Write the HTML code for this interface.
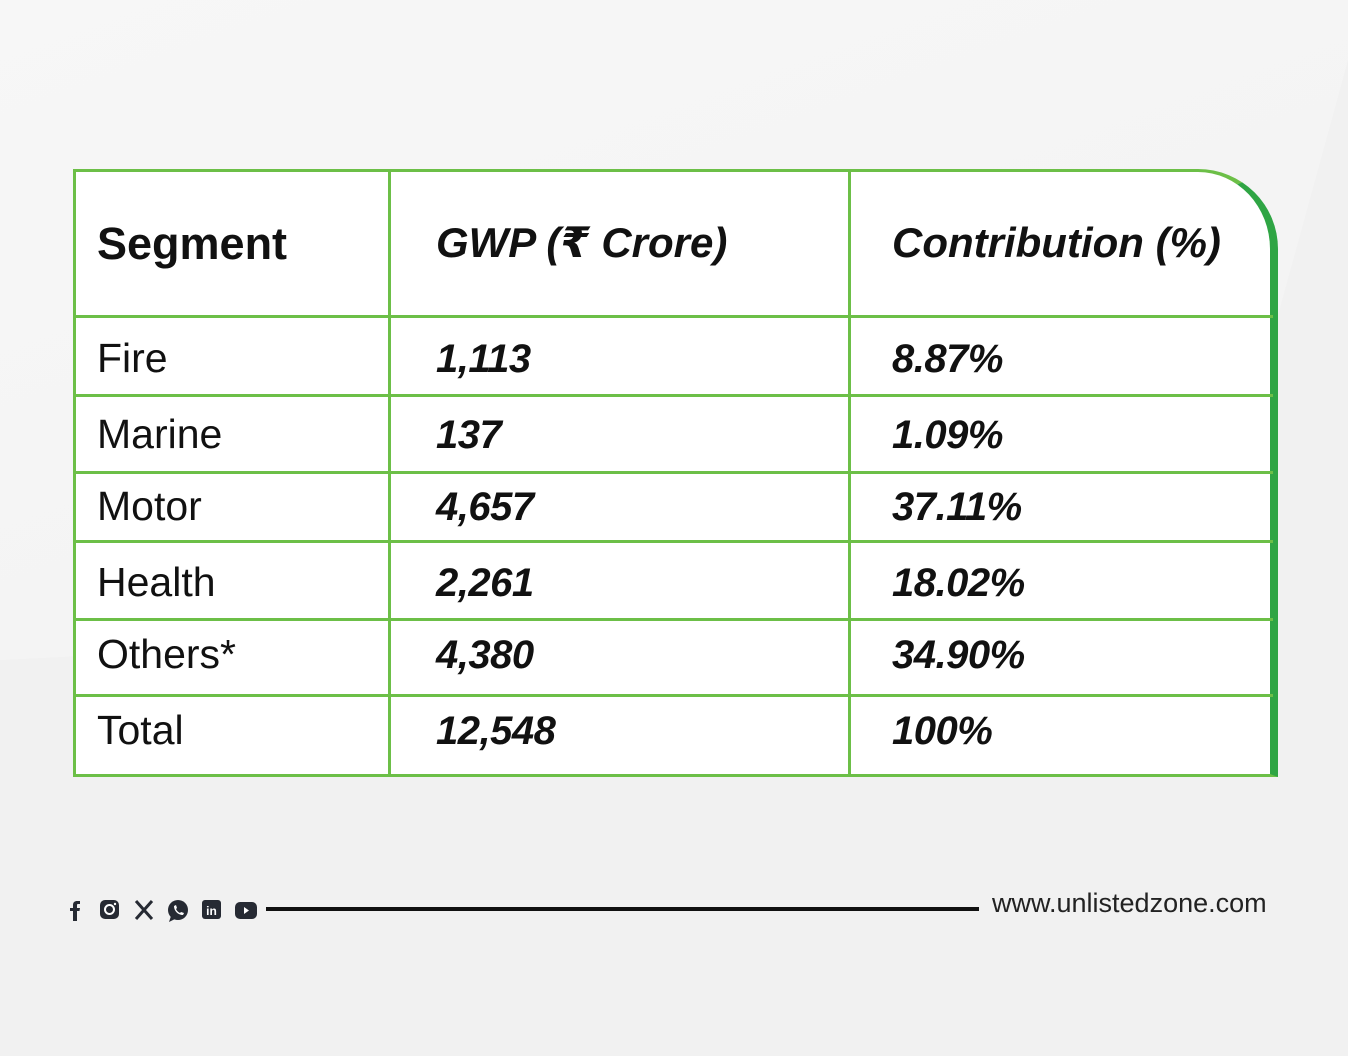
<!DOCTYPE html>
<html><head><meta charset="utf-8">
<style>
html,body{margin:0;padding:0}
body{width:1348px;height:1056px;position:relative;overflow:hidden;background:#f1f1f1;font-family:"Liberation Sans","Noto Sans CJK SC","DejaVu Sans",sans-serif;color:#111}
.bgtop{position:absolute;left:0;top:0;width:1348px;height:680px;background:linear-gradient(160deg,#f7f7f7 0%,#f4f4f4 60%,#f1f1f1 100%);clip-path:polygon(0 0,1348px 0,1348px 60px,1200px 600px,0 660px)}
.table{position:absolute;left:73px;top:169px;width:1200px;height:605px;background:#fff;border-top-right-radius:80px;overflow:hidden}
.edge{position:absolute;left:73px;top:169px;width:1194px;height:602px;border:3px solid #6cbf47;border-top-right-radius:80px;box-sizing:content-box;border-right:8px solid #2fa544}
.h{position:absolute;left:73px;width:1200px;height:3px;background:#6cbf47}
.v{position:absolute;top:169px;width:3px;height:605px;background:#6cbf47}
.t{position:absolute;font-size:41px;line-height:1;white-space:nowrap}
.hd{font-weight:bold;font-size:45px}
.it{font-style:italic;font-weight:bold;letter-spacing:-0.5px;font-size:40px}
.foot{position:absolute;left:266px;top:907px;width:713px;height:4px;background:#111}
.url{position:absolute;left:992px;top:888px;font-size:27px;color:#222}
.ic{position:absolute;top:899px}
</style></head><body>
<div class="bgtop"></div>
<div class="table"></div>
<div class="edge"></div>
<div class="v" style="left:388px"></div>
<div class="v" style="left:848px"></div>
<div class="h" style="top:315px"></div>
<div class="h" style="top:394px"></div>
<div class="h" style="top:471px"></div>
<div class="h" style="top:540px"></div>
<div class="h" style="top:618px"></div>
<div class="h" style="top:694px"></div>

<div class="t hd" style="left:97px;top:221px">Segment</div>
<div class="t hd it" style="left:436px;top:222px;letter-spacing:0;font-size:42px">GWP (₹ Crore)</div>
<div class="t hd it" style="left:892px;top:222px;letter-spacing:0;font-size:42px">Contribution (%)</div>

<div class="t" style="left:97px;top:338px">Fire</div>
<div class="t it" style="left:436px;top:339px">1,113</div>
<div class="t it" style="left:892px;top:339px">8.87%</div>

<div class="t" style="left:97px;top:414px">Marine</div>
<div class="t it" style="left:436px;top:415px">137</div>
<div class="t it" style="left:892px;top:415px">1.09%</div>

<div class="t" style="left:97px;top:486px">Motor</div>
<div class="t it" style="left:436px;top:487px">4,657</div>
<div class="t it" style="left:892px;top:487px">37.11%</div>

<div class="t" style="left:97px;top:562px">Health</div>
<div class="t it" style="left:436px;top:563px">2,261</div>
<div class="t it" style="left:892px;top:563px">18.02%</div>

<div class="t" style="left:97px;top:634px">Others*</div>
<div class="t it" style="left:436px;top:635px">4,380</div>
<div class="t it" style="left:892px;top:635px">34.90%</div>

<div class="t" style="left:97px;top:710px">Total</div>
<div class="t it" style="left:436px;top:711px">12,548</div>
<div class="t it" style="left:892px;top:711px">100%</div>

<svg class="ic" style="left:68px" width="16" height="24" viewBox="0 0 16 24"><path d="M5 22V12H2V9h3V6c0-3 2-4 4-4h3v3H10c-1 0-1 .5-1 1.5V9h3l-.5 3H9v10z" fill="#262a33"/></svg>
<svg class="ic" style="left:99px" width="22" height="22" viewBox="0 0 22 22"><rect x="1" y="1" width="19" height="19" rx="5" fill="#262a33"/><circle cx="10.5" cy="10.5" r="4.5" fill="none" stroke="#fff" stroke-width="2"/><circle cx="16" cy="5" r="1.2" fill="#fff"/></svg>
<svg class="ic" style="left:134px" width="20" height="22" viewBox="0 0 20 22"><path d="M2 2l16 18M18 2L2 20" stroke="#262a33" stroke-width="3"/></svg>
<svg class="ic" style="left:166px" width="24" height="24" viewBox="0 0 24 24"><circle cx="12" cy="11" r="10" fill="#262a33"/><path d="M3 23l2-6 4 3z" fill="#262a33"/><path d="M8 7c0 5 4 9 9 9l1-2-3-1-1 1c-2-1-3-2-4-4l1-1-1-3z" fill="#fff"/></svg>
<svg class="ic" style="left:201px" width="22" height="22" viewBox="0 0 22 22"><rect x="1" y="1" width="19" height="19" rx="3" fill="#262a33"/><text x="10.5" y="16" font-size="12" font-weight="bold" fill="#fff" text-anchor="middle" font-family="Liberation Sans">in</text></svg>
<svg class="ic" style="left:234px;top:901px" width="24" height="20" viewBox="0 0 24 20"><rect x="1" y="1" width="22" height="17" rx="5" fill="#262a33"/><path d="M10 6l5 3.5-5 3.5z" fill="#fff"/></svg>
<div class="foot"></div>
<div class="url">www.unlistedzone.com</div>
</body></html>
